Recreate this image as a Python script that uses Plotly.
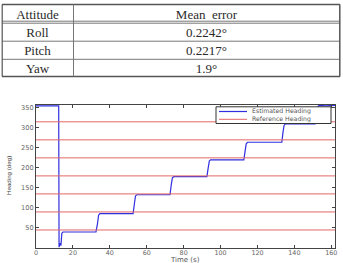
import plotly.graph_objects as go

# ---- table data ----
table_header = ["Attitude", "Mean\u00a0 error"]
attitudes = ["Roll", "Pitch", "Yaw"]
mean_errors = ["0.2242°", "0.2217°", "1.9°"]

# ---- chart data ----
time_s = [0, 12.3, 12.5, 13.0, 13.5, 14.0, 14.6, 20, 26, 32.5,
          33.3, 33.9, 34.6, 40, 46, 52.6,
          53.3, 53.9, 54.6, 60, 66, 72.6,
          73.3, 73.9, 74.6, 80, 86, 92.6,
          93.3, 93.9, 94.6, 100, 106, 112.6,
          113.3, 113.9, 114.6, 120, 126, 133.2,
          133.8, 134.4, 135.1, 140, 146, 151.2,
          151.9, 152.6, 153.3, 157, 162]
est_heading = [355, 355, 2, 12, 6, 37, 40, 40, 41, 40,
               60, 82, 86, 86, 86, 86,
               110, 130, 133, 133, 132, 133,
               158, 175, 178, 178, 178, 178,
               200, 217, 220, 220, 221, 220,
               242, 260, 264, 264, 263, 264,
               288, 306, 310, 310, 309, 310,
               335, 352, 356, 355, 356]
ref_levels = [45, 90, 135, 180, 225, 270, 315]
x_ticks = [0, 20, 40, 60, 80, 100, 120, 140, 160]
y_ticks = [50, 100, 150, 200, 250, 300, 350]
x_range = [0, 162]
y_range = [0, 357]
legend_names = ["Estimated Heading", "Reference Heading"]

BLUE = "#2f2fe0"
RED = "#e46666"
W, H = 343, 263
ML, MR, MT, MB = 2, 3, 1, 15
PW, PH = W - ML - MR, H - MT - MB

def px_x(x):
    return (x - ML) / PW

def px_y(y):
    return (H - MB - y) / PH

ref_x, ref_y = [], []
for lv in ref_levels:
    ref_x += [x_range[0], x_range[1], None]
    ref_y += [lv, lv, None]

fig = go.Figure()

fig.add_trace(go.Table(
    domain=dict(x=[0, 1], y=[px_y(74), px_y(1.2)]),
    columnwidth=[71, 267],
    header=dict(values=table_header, height=18,
                line=dict(color="rgba(0,0,0,0)", width=0),
                fill=dict(color="rgba(0,0,0,0)"),
                font=dict(family="Liberation Serif", size=13, color="#2a2a2a"),
                align="center"),
    cells=dict(values=[attitudes, mean_errors], height=18.2,
               line=dict(color="rgba(0,0,0,0)", width=0),
               fill=dict(color="rgba(0,0,0,0)"),
               font=dict(family="Liberation Serif", size=13, color="#2a2a2a"),
               align="center"),
))

fig.add_trace(go.Scatter(x=time_s, y=est_heading, mode="lines",
                         name=legend_names[0],
                         line=dict(color=BLUE, width=1.2)))
fig.add_trace(go.Scatter(x=ref_x, y=ref_y, mode="lines",
                         name=legend_names[1],
                         line=dict(color=RED, width=1)))

def hline(y, x0=2, x1=340, color="#777", width=1):
    return dict(type="line", xref="paper", yref="paper",
                x0=px_x(x0), x1=px_x(x1), y0=px_y(y), y1=px_y(y),
                line=dict(color=color, width=width))

def vline(x, y0, y1, color="#777", width=1):
    return dict(type="line", xref="paper", yref="paper",
                x0=px_x(x), x1=px_x(x), y0=px_y(y0), y1=px_y(y1),
                line=dict(color=color, width=width))

shapes = [
    hline(4.5, color="#555", width=1.5),
    hline(21.2), hline(23.2),
    hline(41.2), hline(59.3),
    hline(76.5, color="#555", width=1.5),
    vline(2.2, 4.5, 76.5, color="#555", width=1.2),
    vline(73.5, 4.5, 76.5),
    vline(339.8, 4.5, 76.5, color="#555", width=1.5),
    # legend box
    dict(type="rect", xref="paper", yref="paper",
         x0=px_x(216), x1=px_x(331), y0=px_y(123.5), y1=px_y(106.8),
         fillcolor="white", line=dict(color="#333", width=1), layer="above"),
    dict(type="line", xref="paper", yref="paper",
         x0=px_x(219), x1=px_x(247), y0=px_y(111.5), y1=px_y(111.5),
         line=dict(color=BLUE, width=1.2), layer="above"),
    dict(type="line", xref="paper", yref="paper",
         x0=px_x(219), x1=px_x(247), y0=px_y(119.3), y1=px_y(119.3),
         line=dict(color=RED, width=1), layer="above"),
]

annotations = [
    dict(text="<br>".join(legend_names), xref="paper", yref="paper",
         x=px_x(251), y=px_y(115.4), xanchor="left", yanchor="middle",
         align="left", borderpad=0,
         showarrow=False, font=dict(family="DejaVu Sans", size=6.2, color="#555")),
    dict(text="Time (s)", xref="paper", yref="paper",
         x=px_x(185), y=px_y(260), xanchor="center", yanchor="middle",
         showarrow=False, font=dict(family="DejaVu Sans", size=7, color="#555")),
    dict(text="Heading (deg)", xref="paper", yref="paper",
         x=px_x(8), y=px_y(176), xanchor="center", yanchor="middle",
         textangle=-90, showarrow=False,
         font=dict(family="Liberation Sans", size=6.2, color="#444")),
]

fig.update_layout(
    width=W, height=H,
    margin=dict(l=ML, r=MR, t=MT, b=MB),
    paper_bgcolor="white", plot_bgcolor="white",
    showlegend=False,
    xaxis=dict(domain=[px_x(36), px_x(335)], anchor="y",
               range=x_range, tickvals=x_ticks, ticks="inside", ticklen=3,
               tickcolor="#444", showline=True, linecolor="#444", linewidth=1,
               mirror="ticks", showgrid=False, zeroline=False,
               ticklabelstandoff=-2,
               tickfont=dict(family="DejaVu Sans", size=6.4, color="#666"),
               automargin=False),
    yaxis=dict(domain=[0, px_y(105)], anchor="x",
               range=y_range, tickvals=y_ticks, ticks="inside", ticklen=3,
               tickcolor="#444", showline=True, linecolor="#444", linewidth=1,
               mirror="ticks", showgrid=False, zeroline=False,
               tickfont=dict(family="DejaVu Sans", size=6.6, color="#666"),
               automargin=False),
    shapes=shapes,
    annotations=annotations,
)

fig.write_html("out.html")
